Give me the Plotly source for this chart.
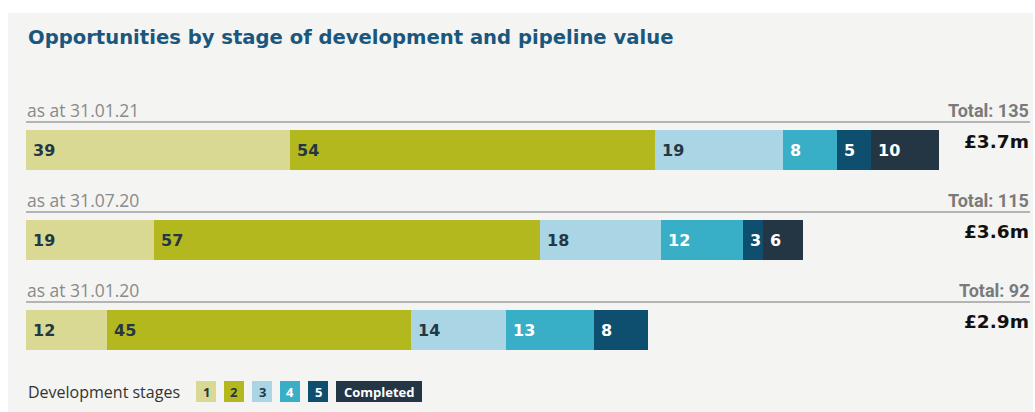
import plotly.graph_objects as go

# ---- data ----
dates = ["as at 31.01.21", "as at 31.07.20", "as at 31.01.20"]
totals = [135, 115, 92]
pipeline_values = ["£3.7m", "£3.6m", "£2.9m"]
stage_names = ["1", "2", "3", "4", "5", "Completed"]
stage1 = [39, 19, 12]
stage2 = [54, 57, 45]
stage3 = [19, 18, 14]
stage4 = [8, 12, 13]
stage5 = [5, 3, 8]
completed = [10, 6, 0]

series = [stage1, stage2, stage3, stage4, stage5, completed]
colors = ["#d9d994", "#b4b81f", "#a9d5e5", "#39aec7", "#0e4f6f", "#243544"]
text_colors = ["#253645", "#253645", "#253645", "#ffffff", "#ffffff", "#ffffff"]

W, H = 1035, 412
x0_px, px_per_unit = 26, 6.76
row0_px, row_step = 150, 90
rows = list(range(len(dates)))

def px(x):
    return x / W

def py(y):
    return 1 - y / H

fig = go.Figure()
for name, vals, col in zip(stage_names, series, colors):
    fig.add_trace(go.Bar(
        y=rows, x=vals, orientation="h", name=name,
        marker=dict(color=col, line=dict(width=0)),
        width=40 / row_step, hoverinfo="x+name", showlegend=False,
    ))

annotations = []
shapes = []

# panel background
shapes.append(dict(type="rect", xref="paper", yref="paper", x0=px(8), x1=px(1033),
                   y0=0, y1=py(13), fillcolor="#f4f4f2", line=dict(width=0), layer="below"))

# title
annotations.append(dict(xref="paper", yref="paper", x=px(26), y=py(38), xanchor="left", yanchor="middle",
                        text="<b>Opportunities by stage of development and pipeline value</b>",
                        showarrow=False, font=dict(family="DejaVu Sans", size=19.6, color="#1b577d")))

for r in rows:
    # segment labels
    start = 0
    for vals, tc in zip(series, text_colors):
        v = vals[r]
        if v > 0:
            annotations.append(dict(x=start, y=r, xref="x", yref="y", xanchor="left", yanchor="middle",
                                    xshift=5, text=f"<b>{v}</b>", showarrow=False,
                                    font=dict(family="DejaVu Sans", size=16, color=tc)))
        start += v
    # header line
    shapes.append(dict(type="line", xref="paper", yref="y", x0=px(26), x1=px(1030),
                       y0=r - 28 / row_step, y1=r - 28 / row_step,
                       line=dict(color="#b4b4b4", width=2)))
    annotations.append(dict(xref="paper", yref="y", x=px(25), y=r - 40 / row_step, xanchor="left",
                            yanchor="middle", text=dates[r], showarrow=False,
                            font=dict(family="Open Sans", size=17.5, color="#8a8a8a")))
    annotations.append(dict(xref="paper", yref="y", x=px(1031), y=r - 40 / row_step, xanchor="right",
                            yanchor="middle", text=f"<b>Total: {totals[r]}</b>", showarrow=False,
                            font=dict(family="Roboto", size=18, color="#7a7a7a")))
    annotations.append(dict(xref="paper", yref="y", x=px(1031), y=r - 9 / row_step, xanchor="right",
                            yanchor="middle", text=f"<b>{pipeline_values[r]}</b>", showarrow=False,
                            font=dict(family="DejaVu Sans", size=18.5, color="#111111")))

# legend
annotations.append(dict(xref="paper", yref="paper", x=px(26), y=py(392), xanchor="left", yanchor="middle",
                        text="Development stages", showarrow=False,
                        font=dict(family="Open Sans", size=16, color="#333333")))
box_left = [196, 224, 252, 280, 308, 336]
box_w = [20, 20, 20, 20, 20, 86]
for name, col, tc, bl, bw in zip(stage_names, colors, text_colors, box_left, box_w):
    shapes.append(dict(type="rect", xref="paper", yref="paper", x0=px(bl), x1=px(bl + bw),
                       y0=py(402), y1=py(381), fillcolor=col, line=dict(width=0)))
    annotations.append(dict(xref="paper", yref="paper", x=px(bl + bw / 2), y=py(391.5), xanchor="center",
                            yanchor="middle", text=f"<b>{name}</b>", showarrow=False,
                            font=dict(family="Open Sans", size=13, color=tc)))

fig.update_layout(
    width=W, height=H, margin=dict(l=0, r=0, t=0, b=0),
    paper_bgcolor="#ffffff", plot_bgcolor="rgba(0,0,0,0)",
    barmode="stack", bargap=0,
    xaxis=dict(range=[-x0_px / px_per_unit, (W - x0_px) / px_per_unit], visible=False, fixedrange=True),
    yaxis=dict(range=[(H - row0_px) / row_step, -row0_px / row_step], visible=False, fixedrange=True),
    shapes=shapes, annotations=annotations,
)

fig.write_html("out.html")
